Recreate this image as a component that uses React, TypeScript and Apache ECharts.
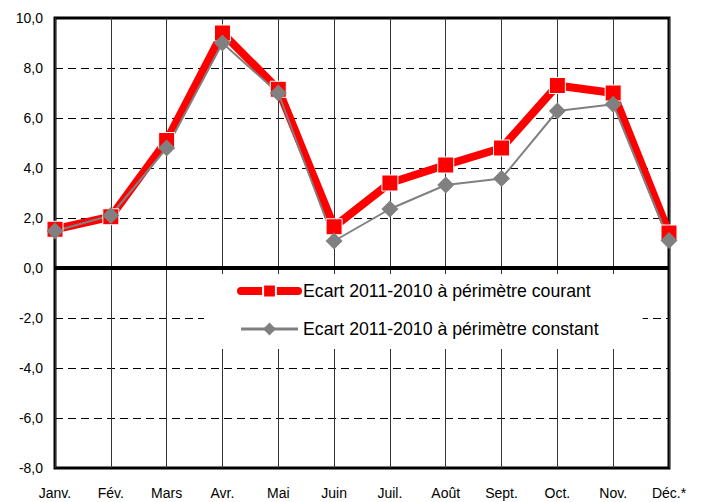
import React, { useEffect, useRef } from "react";
import * as echarts from "echarts";

const months = ["Janv.", "Fév.", "Mars", "Avr.", "Mai", "Juin", "Juil.", "Août", "Sept.", "Oct.", "Nov.", "Déc.*"];
const courant = [1.55, 2.05, 5.1, 9.4, 7.15, 1.65, 3.4, 4.12, 4.8, 7.3, 7.0, 1.4];
const constant = [1.48, 2.1, 4.8, 9.0, 7.0, 1.08, 2.36, 3.32, 3.58, 6.28, 6.55, 1.1];
const seriesNames = ["Ecart 2011-2010 à périmètre courant", "Ecart 2011-2010 à périmètre constant"];

const FONT = "'Liberation Sans', Arial, sans-serif";

export default function App() {
  const ref = useRef<HTMLDivElement>(null);
  useEffect(() => {
    document.body.style.margin = "0";
    const chart = echarts.init(ref.current!, undefined, { renderer: "svg" });
    chart.setOption({
      animation: false,
      backgroundColor: "#fff",
      textStyle: { fontFamily: FONT },
      grid: {
        left: 55, right: 32, top: 18, bottom: 34,
        show: true, borderColor: "#000", borderWidth: 3, backgroundColor: "transparent",
      },
      legend: {
        orient: "vertical",
        left: 204,
        top: 274,
        backgroundColor: "#fff",
        padding: [8, 44, 11, 33],
        itemWidth: 57,
        itemHeight: 16,
        itemGap: 20,
        textStyle: { fontSize: 17.7, color: "#000", fontFamily: FONT, lineHeight: 18 },
        data: [
          { name: seriesNames[0], lineStyle: { width: 8, cap: "round" } },
          { name: seriesNames[1], lineStyle: { width: 3 } },
        ],
        z: 5,
      },
      xAxis: {
        type: "category",
        data: months,
        boundaryGap: false,
        axisLine: { show: false },
        axisTick: { show: false },
        axisLabel: { color: "#000", fontSize: 14, margin: 18, fontFamily: FONT, interval: 0 },
        splitLine: { show: true, lineStyle: { color: "#333", width: 1 } },
      },
      yAxis: {
        type: "value",
        min: -8,
        max: 10,
        interval: 2,
        axisLine: { show: false },
        axisTick: { show: false },
        axisLabel: {
          color: "#000", fontSize: 14, margin: 12, fontFamily: FONT,
          formatter: (v: number) => v.toFixed(1).replace(".", ","),
        },
        splitLine: { show: true, lineStyle: { color: "#000", type: [8, 5], width: 1 } },
      },
      series: [
        {
          name: seriesNames[0],
          type: "line",
          data: courant,
          symbol: "rect",
          symbolSize: 16,
          lineStyle: { color: "#ff0000", width: 8 },
          itemStyle: { color: "#ff0000", borderColor: "#fff", borderWidth: 1 },
          markLine: {
            silent: true,
            symbol: "none",
            label: { show: false },
            lineStyle: { color: "#000", width: 4, type: "solid" },
            data: [{ yAxis: 0 }],
            z: 1,
          },
        },
        {
          name: seriesNames[1],
          type: "line",
          data: constant,
          symbol: "diamond",
          symbolSize: 17,
          lineStyle: { color: "#808080", width: 2 },
          itemStyle: { color: "#808080" },
        },
      ],
    });
    return () => chart.dispose();
  }, []);
  return <div ref={ref} style={{ width: 701, height: 502 }} />;
}
